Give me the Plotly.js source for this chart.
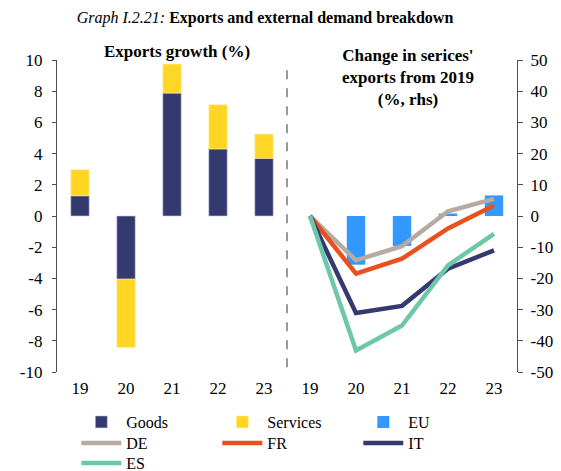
<!DOCTYPE html>
<html><head><meta charset="utf-8">
<script src="https://cdn.plot.ly/plotly-3.0.1.min.js"></script>
<style>html,body{margin:0;padding:0;background:#fff}#chart{width:561px;height:471px}</style>
</head><body><div id="chart"></div>
<script>
const yearLabels = ['19','20','21','22','23'];
const goods = [1.3, -4.05, 7.88, 4.3, 3.7];
const services = [1.67, -4.38, 1.86, 2.83, 1.55];
const euServ = [0, -15.6, -9.6, 0.8, 6.6];
const deServ = [0, -14.2, -9.7, 1.5, 5.5];
const frServ = [0, -18.5, -13.7, -4.0, 3.4];
const itServ = [0, -31.1, -28.8, -16.9, -11.0];
const esServ = [0, -43.1, -35.1, -15.8, -5.7];
const leftTicks = [-10, -8, -6, -4, -2, 0, 2, 4, 6, 8, 10];
const rightTicks = [-50, -40, -30, -20, -10, 0, 10, 20, 30, 40, 50];

const xLeft = yearLabels.map((_, i) => i);
const xRight = yearLabels.map((_, i) => i + yearLabels.length);
const allTickVals = xLeft.concat(xRight);
const allTickText = yearLabels.concat(yearLabels);
const boundaryVals = allTickVals.slice(0, -1).map(v => v + 0.5);
const hyphen = v => String(v).replace('\u2212', '-');

const serif = 'Liberation Serif';
const lineW = 4.5;
const traces = [
  {type:'bar', name:'Goods', legend:'legend', x:xLeft, y:goods, marker:{color:'#343a6f', line:{color:'#c8cbe6', width:0.6}}, width:0.4, xaxis:'x', yaxis:'y'},
  {type:'bar', name:'Services', legend:'legend', x:xLeft, y:services, marker:{color:'#ffd624', line:{color:'#fff2b0', width:0.6}}, width:0.4, xaxis:'x', yaxis:'y'},
  {type:'bar', name:'EU', legend:'legend', x:xRight, y:euServ, marker:{color:'#3399ff'}, width:0.4, xaxis:'x', yaxis:'y2'},
  {type:'scatter', mode:'lines', name:'DE', legend:'legend2', x:xRight, y:deServ, line:{color:'#b7aaa3', width:lineW}, xaxis:'x', yaxis:'y2'},
  {type:'scatter', mode:'lines', name:'FR', legend:'legend2', x:xRight, y:frServ, line:{color:'#e8501e', width:lineW}, xaxis:'x', yaxis:'y2'},
  {type:'scatter', mode:'lines', name:'IT', legend:'legend2', x:xRight, y:itServ, line:{color:'#343a6f', width:lineW}, xaxis:'x', yaxis:'y2'},
  {type:'scatter', mode:'lines', name:'ES', legend:'legend3', x:xRight, y:esServ, line:{color:'#6cc8a8', width:lineW}, xaxis:'x', yaxis:'y2'}
];

const axisColor = '#4d4d4d';
const legendBase = (yPix) => ({orientation:'h', x:0.042, xanchor:'left', y:(372 - yPix)/312, yanchor:'middle', entrywidth:86, entrywidthmode:'pixels', itemwidth:40, font:{family:serif, size:16, color:'#000'}, traceorder:'normal', bgcolor:'rgba(0,0,0,0)'});
const layout = {
  width:561, height:471,
  margin:{l:57, r:44, t:60, b:99, autoexpand:false},
  paper_bgcolor:'#fff', plot_bgcolor:'#fff',
  font:{family:serif, size:16, color:'#000'},
  showlegend:true,
  barmode:'relative',
  title:{text:'<i>Graph I.2.21:</i> <b>Exports and external demand breakdown</b>', x:265/561, xanchor:'center', y:0.963, yanchor:'middle', font:{family:serif, size:16, color:'#000'}},
  xaxis:{range:[-0.5, 9.5], tickmode:'array', tickvals:allTickVals, ticktext:allTickText, showline:false, ticks:'', showgrid:false, zeroline:false, tickfont:{family:serif, size:17, color:'#000'}, ticklabelstandoff:4, fixedrange:true},
  xaxis2:{overlaying:'x', anchor:'free', position:0.5, range:[-0.5, 9.5], tickmode:'array', tickvals:boundaryVals, ticktext:boundaryVals.map(()=>''), showticklabels:false, showline:true, linecolor:axisColor, linewidth:1.2, ticks:'inside', ticklen:4, tickcolor:axisColor, showgrid:false, zeroline:false},
  yaxis:{range:[-10, 10], tickmode:'array', tickvals:leftTicks, ticktext:leftTicks.map(hyphen), showline:true, linecolor:axisColor, linewidth:1.2, ticks:'outside', ticklen:4, tickcolor:axisColor, showgrid:false, zeroline:false, tickfont:{family:serif, size:17, color:'#000'}, ticklabelstandoff:6},
  yaxis2:{overlaying:'y', side:'right', anchor:'x', range:[-50, 50], tickmode:'array', tickvals:rightTicks, ticktext:rightTicks.map(hyphen), showline:true, linecolor:axisColor, linewidth:1.2, ticks:'outside', ticklen:5, tickcolor:axisColor, showgrid:false, zeroline:false, tickfont:{family:serif, size:17, color:'#000'}, ticklabelstandoff:4},
  legend:legendBase(422),
  legend2:legendBase(443),
  legend3:legendBase(463),
  shapes:[
    {type:'line', xref:'x', yref:'paper', x0:4.5, x1:4.5, y0:0.015, y1:0.99, line:{color:'#555', width:1.2, dash:'dash'}}
  ],
  annotations:[
    {text:'<b>Exports growth (%)</b>', xref:'paper', yref:'paper', x:(177-57)/460, y:(372-51)/312, xanchor:'center', yanchor:'middle', showarrow:false, font:{family:serif, size:17, color:'#000'}},
    {text:"<b>Change in serices'<br>exports from 2019<br>(%, rhs)</b>", xref:'paper', yref:'paper', x:(408-57)/460, y:(372-44)/312, xanchor:'center', yanchor:'top', showarrow:false, align:'center', font:{family:serif, size:17, color:'#000'}}
  ]
};
Plotly.newPlot('chart', traces, layout, {staticPlot:true, displayModeBar:false});
</script></body></html>
